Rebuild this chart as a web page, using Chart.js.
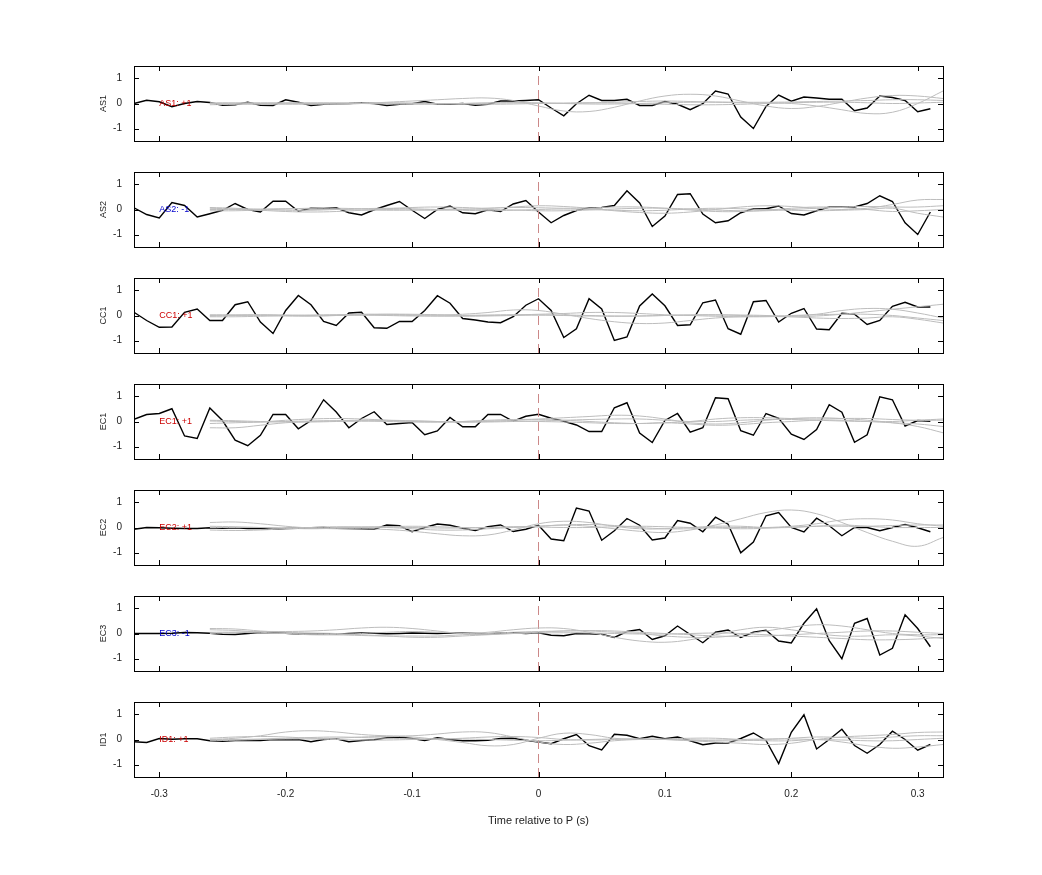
<!DOCTYPE html>
<html><head><meta charset="utf-8">
<script src="https://cdn.jsdelivr.net/npm/chart.js@4"></script>
<style>body{margin:0;background:#fff;width:1042px;height:875px;position:relative;overflow:hidden}canvas{position:absolute;left:0}</style>
</head><body>
<script>
const channels = ["AS1","AS2","CC1","EC1","EC2","EC3","ID1"];
const polarity = ["+1","-1","+1","+1","+1","-1","+1"];
const xTickValues = [-0.3,-0.2,-0.1,0,0.1,0.2,0.3];
const xTickLabels = ["-0.3","-0.2","-0.1","0","0.1","0.2","0.3"];
const yTickValues = [-1,0,1];
const xTitle = "Time relative to P (s)";
// black trace time base: -0.32 .. 0.31 step 0.01
const blackTimes = Array.from({length:64},(_,i)=>+(-0.32+0.01*i).toFixed(2));
// gray trace time base: -0.26 .. 0.32 step 0.02
const grayTimes = Array.from({length:30},(_,k)=>+(-0.26+0.02*k).toFixed(2));

const blackAS1 = [0,0.13,0.07,-0.13,0,0.08,0.04,-0.07,-0.05,0.05,-0.07,-0.08,0.15,0.05,-0.08,-0.03,-0.01,0,0.03,0,-0.08,-0.03,-0.01,0.08,-0.03,-0.03,0,-0.07,-0.03,0.1,0.1,0.12,0.15,-0.18,-0.49,-0.01,0.33,0.12,0.12,0.17,-0.08,-0.08,0.08,-0.03,-0.25,-0.01,0.5,0.38,-0.54,-1.0,-0.12,0.34,0.09,0.26,0.22,0.17,0.17,-0.29,-0.18,0.3,0.24,0.12,-0.33,-0.21];
const blackAS2 = [0.07,-0.2,-0.34,0.28,0.16,-0.3,-0.17,-0.03,0.24,0,-0.1,0.33,0.33,-0.07,0.05,0.04,0.07,-0.13,-0.22,-0.01,0.16,0.32,-0.03,-0.36,0,0.14,-0.13,-0.17,-0.01,-0.08,0.22,0.36,-0.1,-0.53,-0.24,-0.04,0.07,0.08,0.16,0.75,0.26,-0.68,-0.26,0.6,0.63,-0.18,-0.53,-0.45,-0.13,0.03,0.03,0.14,-0.16,-0.22,-0.05,0.1,0.1,0.1,0.24,0.55,0.32,-0.53,-1.0,-0.1];
const blackCC1 = [0.13,-0.2,-0.47,-0.46,0.13,0.26,-0.2,-0.2,0.43,0.55,-0.26,-0.72,0.2,0.8,0.43,-0.24,-0.4,0.1,0.13,-0.49,-0.51,-0.24,-0.24,0.2,0.79,0.49,-0.12,-0.18,-0.26,-0.29,-0.05,0.41,0.67,0.2,-0.88,-0.53,0.67,0.26,-1.0,-0.86,0.38,0.86,0.39,-0.4,-0.37,0.51,0.62,-0.53,-0.75,0.55,0.6,-0.26,0.09,0.28,-0.54,-0.57,0.09,0.05,-0.36,-0.2,0.37,0.53,0.34,0.34];
const blackEC1 = [0.09,0.28,0.32,0.51,-0.58,-0.68,0.54,0.04,-0.75,-0.97,-0.55,0.28,0.28,-0.29,0.04,0.87,0.38,-0.25,0.12,0.39,-0.12,-0.08,-0.04,-0.53,-0.38,0.16,-0.21,-0.21,0.28,0.28,0.01,0.21,0.29,0.13,0.01,-0.14,-0.4,-0.4,0.55,0.75,-0.46,-0.84,0.04,0.32,-0.43,-0.25,0.95,0.91,-0.37,-0.55,0.32,0.13,-0.51,-0.72,-0.32,0.67,0.37,-0.83,-0.53,0.99,0.87,-0.18,0.04,0.01];
const blackEC2 = [-0.07,0,-0.01,-0.03,-0.04,-0.04,-0.01,-0.03,-0.01,-0.04,-0.04,-0.07,-0.04,-0.03,-0.01,0,-0.03,-0.04,-0.05,-0.07,0.1,0.07,-0.17,0,0.14,0.09,-0.03,-0.12,0.03,0.1,-0.16,-0.07,0.09,-0.46,-0.53,0.78,0.66,-0.51,-0.13,0.36,0.09,-0.5,-0.42,0.28,0.17,-0.17,0.41,0.13,-1.01,-0.58,0.47,0.6,0,-0.18,0.37,0.07,-0.33,0,0,-0.13,0,0.12,-0.01,-0.17];
const blackEC3 = [0,0,0,0.01,0.04,0.03,0.01,-0.03,-0.04,0,0.04,0.03,0.01,-0.02,-0.02,-0.02,-0.03,0,0.02,0.01,-0.01,0,0.02,0.01,0,0.02,0.01,0,-0.01,0.01,0.03,0,0.03,-0.07,-0.09,0,-0.01,-0.03,-0.16,0.08,0.16,-0.24,-0.09,0.3,-0.04,-0.37,0.05,0.14,-0.16,0.05,0.13,-0.3,-0.38,0.41,0.99,-0.29,-1.01,0.41,0.6,-0.86,-0.59,0.75,0.2,-0.53];
const blackID1 = [-0.09,-0.12,0.04,0.01,0.03,0.03,-0.05,-0.07,-0.04,-0.03,-0.04,0,-0.01,0,-0.09,0,0.03,-0.09,-0.04,-0.01,0.07,0.1,0.04,-0.04,0.07,0,-0.05,-0.05,-0.03,0.04,0.05,-0.03,-0.1,-0.17,0.03,0.2,-0.25,-0.42,0.21,0.17,0.03,0.13,0.03,0.1,-0.05,-0.21,-0.14,-0.14,0.04,0.26,-0.04,-0.96,0.29,0.99,-0.38,0,0.41,-0.24,-0.55,-0.2,0.33,0,-0.43,-0.2];

const grayAS1 = [
[0,0.02,0.03,0.02,0,-0.02,0,0.05,0.1,0.15,0.2,0.22,0.12,-0.1,-0.3,-0.32,-0.15,0.1,0.3,0.37,0.3,0.1,-0.1,-0.2,-0.12,0.05,0.22,0.32,0.3,0.2],
[0,-0.02,-0.03,-0.02,0,0.02,0.03,0.02,0,-0.02,0,0.02,0.03,0.02,0,0.02,0.05,0.08,0.1,0.08,0.05,0.03,0.02,0,-0.1,-0.25,-0.4,-0.35,0,0.5],
[-0.05,-0.03,0,0.02,0.03,0.02,0,-0.02,-0.03,-0.02,0,0.02,0.03,0.02,0,-0.02,-0.02,0,0.03,0.05,0.06,0.05,0.05,0.06,0.08,0.1,0.12,0.15,0.15,0.12],
[0.03,0.02,0,-0.02,-0.03,-0.02,0,0.02,0.02,0,-0.02,-0.03,-0.02,0,0.02,0.03,0.02,0,-0.03,-0.05,-0.05,-0.03,0,0.03,0.05,0.05,0.03,0,0.02,0.05]];
const grayAS2 = [
[0.05,0.02,-0.03,-0.08,-0.1,-0.08,-0.03,0.03,0.08,0.1,0.08,0.05,0.1,0.15,0.12,0.05,-0.05,-0.12,-0.15,-0.1,0,0.1,0.15,0.12,0.05,0,0.05,0.2,0.38,0.4],
[-0.05,-0.05,-0.02,0.02,0.05,0.05,0.03,0,-0.02,-0.03,0,0.05,0.08,0.07,0.05,0.06,0.1,0.1,0.05,-0.02,-0.08,-0.08,-0.03,0.05,0.1,0.08,0,-0.08,-0.05,0],
[0,0,0.02,0.03,0.02,0,-0.02,-0.03,-0.02,0,0.02,0,-0.02,-0.05,-0.05,-0.02,0.02,0.05,0.05,0.02,-0.02,-0.05,-0.05,0,0.05,0.1,0.12,0.1,0.1,0.15],
[0.08,0.05,0,-0.03,-0.03,0,0.03,0.05,0.03,0,-0.03,-0.05,-0.03,0,0.02,0,-0.03,-0.05,-0.03,0.02,0.05,0.03,0,-0.03,-0.05,-0.03,0,0.05,-0.15,-0.3]];
const grayCC1 = [
[0,0.02,0.03,0.02,0,0.02,0.05,0.05,0.03,0.02,0.05,0.12,0.22,0.2,0.05,-0.12,-0.25,-0.32,-0.3,-0.2,-0.1,-0.05,-0.03,0,0.05,0.2,0.28,0.25,0.1,-0.1],
[-0.02,0,0.02,0,-0.02,0,0.02,0.05,0.05,0.03,0,0,0.02,0.05,0.08,0.12,0.12,0.08,0.03,0,-0.03,-0.05,-0.05,-0.02,0.03,0.05,0.05,0,-0.1,-0.2],
[0.03,0.02,0,-0.02,-0.02,0,0.02,0.02,0,-0.02,-0.03,-0.02,0,0.02,0.02,0,-0.02,-0.02,0,0.02,0.02,0,-0.03,-0.05,-0.02,0.05,0.15,0.25,0.35,0.45],
[-0.05,-0.05,-0.03,0,0.02,0.03,0.02,0,-0.02,-0.02,0,0.02,0.03,0.02,0,-0.02,-0.03,-0.02,0,0.02,0.03,0.02,0,-0.05,-0.1,-0.12,-0.1,-0.05,-0.15,-0.3]];
const grayEC1 = [
[-0.25,-0.25,-0.15,-0.05,0,0.03,0.05,0.05,0.03,0,-0.02,0,0.05,0.1,0.15,0.2,0.25,0.22,0.1,-0.05,-0.1,-0.05,0.05,0.12,0.15,0.12,0.05,-0.05,-0.2,-0.45],
[-0.08,-0.05,-0.02,0.05,0.1,0.12,0.1,0.05,0,-0.02,0,0.05,0.08,0.08,0.05,0,-0.05,-0.08,-0.05,0,0.1,0.15,0.15,0.12,0.1,0.12,0.12,0.08,0.05,0.05],
[0.02,0,-0.02,0,0.02,0.03,0.02,0,-0.02,-0.02,0,0.02,0.02,0,-0.02,-0.05,-0.08,-0.08,-0.05,-0.1,-0.15,-0.12,-0.05,0,0.05,0.05,0,-0.05,-0.1,-0.2],
[0.05,0.03,0,-0.02,-0.02,0,0.02,0.03,0.02,0,-0.02,-0.02,0,0.02,0.05,0.08,0.1,0.1,0.05,0,0,0.05,0.08,0.08,0.05,0.02,0,0,0.05,0.1]];
const grayEC2 = [
[0.2,0.22,0.15,0.05,-0.02,-0.05,-0.05,-0.08,-0.15,-0.25,-0.33,-0.3,-0.1,0.15,0.25,0.2,0.05,-0.05,-0.05,0,0.05,0.05,0,0,0.05,0.1,0.05,0,0,0],
[0,0,0,-0.02,-0.02,0,0.02,0.02,0,-0.02,-0.02,0,0.02,0.05,0.1,0.05,-0.05,-0.15,-0.2,-0.1,0.1,0.35,0.6,0.7,0.55,0.2,-0.2,-0.55,-0.75,-0.4],
[-0.1,-0.12,-0.1,-0.05,0,0.03,0.02,0,-0.05,-0.1,-0.1,-0.05,0,0.05,0.1,0.12,0.08,0,-0.05,-0.05,0,0,0,0.05,0.15,0.3,0.35,0.3,0.15,0.05],
[0.05,0.03,0,-0.03,-0.05,-0.03,0,0.03,0.05,0.03,0,0,0.03,0.02,0,0,0.03,0.05,0.03,0,-0.02,-0.05,-0.03,0.02,0.05,0.05,0.05,0.08,0.1,0.1]];
const grayEC3 = [
[0.2,0.18,0.1,0.05,0.02,0,-0.05,-0.1,-0.15,-0.15,-0.1,-0.05,0,0.05,0.1,0.12,0.1,0.05,0,-0.05,-0.1,-0.12,-0.1,-0.05,0,0.05,0.1,0.1,0.05,0],
[0,0.05,0.08,0.08,0.1,0.15,0.22,0.25,0.2,0.1,0,0.05,0.15,0.22,0.2,0.05,-0.15,-0.3,-0.35,-0.25,-0.05,0.15,0.25,0.15,0,-0.1,-0.1,-0.05,-0.1,-0.2],
[0.05,0.05,0.02,0,-0.02,-0.05,-0.08,-0.1,-0.1,-0.1,-0.05,0,0.05,0.08,0.1,0.1,0.05,0,-0.1,-0.15,-0.15,-0.05,0.1,0.25,0.35,0.3,0.15,0,-0.05,-0.05],
[0.15,0.12,0.05,0,-0.05,-0.05,0,0.05,0.08,0.05,0,-0.02,0,0.02,0.03,0.02,0,-0.02,-0.02,0,0.02,0,-0.05,-0.1,-0.15,-0.2,-0.25,-0.25,-0.22,-0.15]];
const grayID1 = [
[0,0.05,0.15,0.3,0.35,0.3,0.2,0.15,0.15,0.22,0.3,0.28,0.1,-0.1,-0.2,-0.15,-0.05,0,0,-0.05,-0.1,-0.15,-0.2,-0.15,0,0.1,0.15,0.2,0.28,0.3],
[0.05,0.1,0.12,0.1,0.05,0.05,0.1,0.12,0.1,0,-0.12,-0.25,-0.2,0.05,0.25,0.2,0.05,0,0.02,0.05,0.05,0,-0.05,-0.05,0,-0.1,-0.25,-0.35,-0.3,-0.2],
[0,0,0.02,0.05,0.08,0.1,0.08,0.05,0.03,0.02,0.05,0.1,0.12,0.08,0,-0.02,0,0.02,0,-0.02,-0.05,-0.05,0,0.05,0.1,0.08,0.05,0.1,0.15,0.15],
[-0.05,-0.03,0,0.02,0.02,0,-0.02,-0.02,0,0.02,0.02,0,-0.03,-0.05,-0.03,0,0.02,0.02,0,-0.02,-0.02,0,0.02,0.02,0,-0.02,-0.05,-0.05,0,0.05]];

const blacks = [blackAS1,blackAS2,blackCC1,blackEC1,blackEC2,blackEC3,blackID1];
const grays = [grayAS1,grayAS2,grayCC1,grayEC1,grayEC2,grayEC3,grayID1];

const FONT = "'Liberation Sans', Arial, sans-serif";
const panelTops = [66,172,278,384,490,596,702];
const PH = 75, PAD = 10;

const framePlugin = {
  id:'frame',
  afterDatasetsDraw(chart, args, opts){
    const {ctx, chartArea:a, scales:{x,y}} = chart;
    ctx.save();
    ctx.strokeStyle='#000'; ctx.lineWidth=1;
    ctx.strokeRect(Math.round(a.left)+0.5, Math.round(a.top)+0.5, Math.round(a.right-a.left), Math.round(a.bottom-a.top));
    ctx.beginPath();
    xTickValues.forEach(v=>{const px=Math.round(x.getPixelForValue(v))+0.5;
      ctx.moveTo(px,a.top); ctx.lineTo(px,a.top+5); ctx.moveTo(px,a.bottom); ctx.lineTo(px,a.bottom-5);});
    yTickValues.forEach(v=>{const py=Math.round(y.getPixelForValue(v))+0.5;
      ctx.moveTo(a.left,py); ctx.lineTo(a.left+5,py); ctx.moveTo(a.right,py); ctx.lineTo(a.right-5,py);});
    ctx.stroke();
    ctx.font = "9px "+FONT; ctx.fillStyle = opts.color; ctx.textBaseline='middle';
    ctx.fillText(opts.text, x.getPixelForValue(-0.3), y.getPixelForValue(0));
    // y-axis channel label
    ctx.fillStyle='#222'; ctx.textAlign='center';
    ctx.translate(a.left-30, (a.top+a.bottom)/2); ctx.rotate(-Math.PI/2);
    ctx.fillText(opts.label, 0, 0);
    ctx.restore();
  }
};

channels.forEach((ch,p)=>{
  const last = p===channels.length-1;
  const H = last ? 140 : 106;
  const cv = document.createElement('canvas');
  cv.width = 1042; cv.height = H;
  cv.style.top = (panelTops[p]-PAD)+'px';
  cv.style.width='1042px'; cv.style.height=H+'px';
  document.body.appendChild(cv);
  const ds = [];
  grays[p].forEach(g=>ds.push({data:grayTimes.map((t,i)=>({x:t,y:g[i]})),borderColor:'#bdbdbd',borderWidth:1,tension:0.4,pointRadius:0}));
  ds.push({data:[{x:0,y:1.1},{x:0,y:-1.5}],borderColor:'#cc8888',borderWidth:1,borderDash:[9,5],pointRadius:0});
  ds.push({data:blackTimes.map((t,i)=>({x:t,y:blacks[p][i]})),borderColor:'#000',borderWidth:1.4,pointRadius:0,tension:0});
  new Chart(cv,{
    type:'line',
    data:{datasets:ds},
    options:{
      responsive:false, animation:false, devicePixelRatio:1,
      layout:{padding:{top:PAD,right:1042-943,left:0,bottom:0}},
      plugins:{legend:{display:false},tooltip:{enabled:false},
        frame:{text:ch+": "+polarity[p], label:ch, color: polarity[p]==="+1" ? '#cc0000' : '#0000cc'}},
      scales:{
        x:{type:'linear',min:-0.32,max:0.32,
          afterBuildTicks:s=>{s.ticks=xTickValues.map(v=>({value:v}));},
          afterFit:s=>{s.height = H-PAD-PH;},
          grid:{display:false},border:{display:false},
          ticks:{display:last,color:'#222',font:{family:FONT,size:10},padding:3,maxRotation:0,
            callback:(v)=>xTickLabels[xTickValues.indexOf(+(+v).toFixed(2))] ?? ''},
          title:{display:last,text:xTitle,color:'#222',font:{family:FONT,size:11},padding:{top:3}}},
        y:{min:-1.5,max:1.5,
          afterBuildTicks:s=>{s.ticks=yTickValues.map(v=>({value:v}));},
          afterFit:s=>{s.width=134;},
          grid:{display:false},border:{display:false},
          ticks:{color:'#222',font:{family:FONT,size:10},padding:4,callback:v=>String(v)}}
      }
    },
    plugins:[framePlugin]
  });
});
</script>
</body></html>
